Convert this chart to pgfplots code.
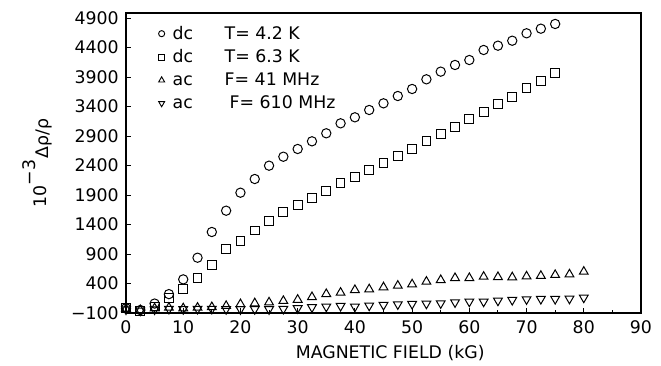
\documentclass[border=0pt]{standalone}
\usepackage{fontspec}
\setmainfont{DejaVu Sans}
\usepackage{pgfplots}
\pgfplotsset{compat=1.18}
\newcommand{\fs}{\fontsize{13}{15.6}\selectfont}
\begin{document}
\begin{tikzpicture}
\begin{axis}[
  scale only axis,
  width=386.25pt, height=225pt,
  xmin=0, xmax=90, ymin=-100, ymax=4985,
  axis line style={line width=0.8pt},
  tick align=inside,
  xtick pos=bottom, ytick pos=left,
  xtick={0,10,...,90},
  minor xtick={5,15,...,85},
  ytick={-100,400,900,1400,1900,2400,2900,3400,3900,4400,4900},
  yticklabels={−100,400,900,1400,1900,2400,2900,3400,3900,4400,4900},
  xticklabels={0,10,20,30,40,50,60,70,80,90},
  major tick length=4pt, minor tick length=2.5pt,
  tick style={line width=0.7pt, black},
  tick label style={font=\fs},
  yticklabel style={xshift=-2pt},
  xticklabel style={yshift=-2pt},
  xlabel={MAGNETIC FIELD (kG)},
  xlabel style={font=\fs, yshift=-2pt, xshift=5pt},
  ylabel={10\raisebox{0.6em}{−3}\hspace{0.1em}\raisebox{-0.15em}{Δρ/ρ}},
  ylabel style={font=\fs, yshift=7pt},
  legend cell align=left,
  legend style={at={(0.055,0.975)}, anchor=north west, draw=none, fill=none, font=\fs, row sep=2.2pt},
  every axis plot/.append style={only marks, line width=0.75pt, black, mark options={solid, fill=white}},
]
\coordinate (sw) at (rel axis cs:0,0);
\coordinate (ne) at (rel axis cs:1,1);
\addplot[mark=o, mark size=3.5pt, forget plot] coordinates {
(0,-20)(2.5,-50)(5,60)(7.5,220)(10,470)(12.5,837)(15,1273)(17.5,1634)(20,1939)(22.5,2171)(25,2397)(27.5,2549)(30,2680)(32.5,2810)(35,2946)(37.5,3115)(40,3217)(42.5,3341)(45,3454)(47.5,3578)(50,3697)(52.5,3861)(55,3991)(57.5,4104)(60,4188)(62.5,4358)(65,4431)(67.5,4515)(70,4641)(72.5,4719)(75,4799)};
\addplot[mark=square, mark size=3.3pt, forget plot] coordinates {
(0,-20)(2.5,-60)(5,10)(7.5,150)(10,307)(12.5,493)(15,708)(17.5,980)(20,1125)(22.5,1300)(25,1465)(27.5,1607)(30,1736)(32.5,1854)(35,1963)(37.5,2098)(40,2210)(42.5,2324)(45,2448)(47.5,2561)(50,2675)(52.5,2815)(55,2934)(57.5,3058)(60,3188)(62.5,3312)(65,3443)(67.5,3566)(70,3709)(72.5,3838)(75,3963)};
\addplot[mark=triangle, mark size=3.8pt, forget plot] coordinates {
(0,-30)(2.5,-50)(5,-20)(7.5,-10)(10,-20)(12.5,-10)(15,0)(17.5,20)(20,50)(22.5,65)(25,80)(27.5,105)(30,125)(32.5,170)(35,222)(37.5,244)(40,290)(42.5,302)(45,336)(47.5,363)(50,386)(52.5,431)(55,459)(57.5,493)(60,493)(62.5,515)(65,510)(67.5,505)(70,520)(72.5,530)(75,545)(77.5,555)(80,600)};
\addplot[mark=triangle, mark size=3.8pt, mark options={rotate=180}, forget plot] coordinates {
(0,-40)(2.5,-60)(5,-40)(7.5,-30)(10,-35)(12.5,-30)(15,-30)(17.5,-35)(20,-37)(22.5,-35)(25,-37)(27.5,-30)(30,-20)(32.5,-3)(35,7)(37.5,19)(40,7)(42.5,24)(45,36)(47.5,47)(50,53)(52.5,58)(55,64)(57.5,81)(60,92)(62.5,92)(65,109)(67.5,120)(70,132)(72.5,137)(75,137)(77.5,142)(80,160)};
\addlegendimage{only marks, mark=o, mark size=2.3pt, line width=0.7pt}
\addlegendentry{\hspace{4pt}\makebox[39pt][l]{dc}T= 4.2 K}
\addlegendimage{only marks, mark=square, mark size=2.3pt, line width=0.7pt}
\addlegendentry{\hspace{4pt}\makebox[39pt][l]{dc}T= 6.3 K}
\addlegendimage{only marks, mark=triangle, mark size=2.6pt, line width=0.7pt}
\addlegendentry{\hspace{4pt}\makebox[39pt][l]{ac}F= 41 MHz}
\addlegendimage{only marks, mark=triangle, mark size=2.6pt, mark options={rotate=180}, line width=0.7pt}
\addlegendentry{\hspace{4pt}\makebox[42.75pt][l]{ac}F= 610 MHz}
\end{axis}
\pgfresetboundingbox
\path ([shift={(-94.5pt,-39.75pt)}]sw) rectangle ([shift={(15pt,9.75pt)}]ne);
\end{tikzpicture}
\end{document}
